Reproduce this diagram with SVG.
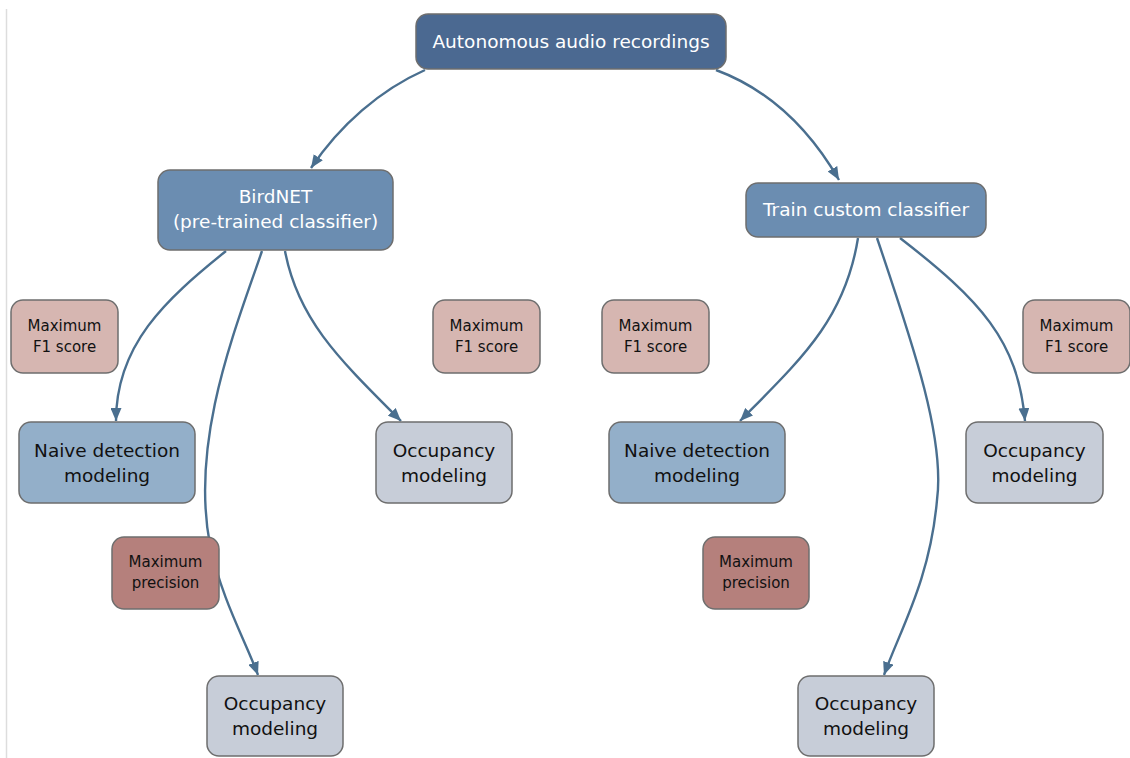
<svg xmlns="http://www.w3.org/2000/svg" width="1130" height="758" viewBox="0 0 1130 758">
<defs>
<marker id="arr" viewBox="0 0 13 11" refX="13" refY="5.5" markerWidth="13" markerHeight="11" markerUnits="userSpaceOnUse" orient="auto">
<path d="M0,0 L13,5.5 L0,11 Z" fill="#4a6f8f"/>
</marker>
<style>
.n rect{stroke:#6e6e6e;stroke-width:1.5}
.t{font-family:"DejaVu Sans",Verdana,sans-serif;text-anchor:middle}
.w{fill:#ffffff}
.k{fill:#111111}
.big{font-size:18.5px}
.sm{font-size:15px}
.e path{fill:none;stroke:#4a6f8f;stroke-width:2.4}
.top{fill:#4b6991}
.mid{fill:#6b8db1}
.f1{fill:#d6b6b1}
.pr{fill:#b5807c}
.nv{fill:#93afc9}
.oc{fill:#c7cdd8}
</style>
</defs>
<rect width="1130" height="758" fill="#ffffff"/>
<line x1="6.5" y1="9" x2="6.5" y2="758" stroke="#dddddd" stroke-width="1.5"/>
<g id="connectors" class="e">
<path d="M425,70 C380,90 340,125 311,168" marker-end="url(#arr)"/>
<path d="M716,70 C770,90 810,130 839,180" marker-end="url(#arr)"/>
<path d="M226,251 C165,300 116,345 116,421" marker-end="url(#arr)"/>
<path d="M262,251 C235,330 190,440 210,545 C222,600 245,640 258,675" marker-end="url(#arr)"/>
<path d="M285,251 C298,320 340,360 401,421" marker-end="url(#arr)"/>
<path d="M858,238 C845,320 800,360 740,421" marker-end="url(#arr)"/>
<path d="M877,238 C915,350 945,440 937,500 C930,580 900,630 884,675" marker-end="url(#arr)"/>
<path d="M900,238 C980,300 1018,340 1025,421" marker-end="url(#arr)"/>
</g>
<g id="n_top" class="n"><rect class="top" x="416" y="14" width="310" height="55" rx="12"/><text class="t w big" x="571" y="48">Autonomous audio recordings</text></g>
<g id="n_birdnet" class="n"><rect class="mid" x="158" y="170" width="235" height="80" rx="12"/><text class="t w big" x="275.5" y="203">BirdNET</text><text class="t w big" x="275.5" y="228">(pre-trained classifier)</text></g>
<g id="n_train" class="n"><rect class="mid" x="746" y="183" width="240" height="54" rx="12"/><text class="t w big" x="866" y="216">Train custom classifier</text></g>
<g id="n_f1a" class="n"><rect class="f1" x="11" y="300" width="107" height="73" rx="12"/><text class="t k sm" x="64.5" y="331">Maximum</text><text class="t k sm" x="64.5" y="352">F1 score</text></g>
<g id="n_f1b" class="n"><rect class="f1" x="433" y="300" width="107" height="73" rx="12"/><text class="t k sm" x="486.5" y="331">Maximum</text><text class="t k sm" x="486.5" y="352">F1 score</text></g>
<g id="n_f1c" class="n"><rect class="f1" x="602" y="300" width="107" height="73" rx="12"/><text class="t k sm" x="655.5" y="331">Maximum</text><text class="t k sm" x="655.5" y="352">F1 score</text></g>
<g id="n_f1d" class="n"><rect class="f1" x="1023" y="300" width="107" height="73" rx="12"/><text class="t k sm" x="1076.5" y="331">Maximum</text><text class="t k sm" x="1076.5" y="352">F1 score</text></g>
<g id="n_naive1" class="n"><rect class="nv" x="19" y="422" width="176" height="81" rx="12"/><text class="t k big" x="107" y="457">Naive detection</text><text class="t k big" x="107" y="482">modeling</text></g>
<g id="n_occ1" class="n"><rect class="oc" x="376" y="422" width="136" height="81" rx="12"/><text class="t k big" x="444" y="457">Occupancy</text><text class="t k big" x="444" y="482">modeling</text></g>
<g id="n_naive2" class="n"><rect class="nv" x="609" y="422" width="176" height="81" rx="12"/><text class="t k big" x="697" y="457">Naive detection</text><text class="t k big" x="697" y="482">modeling</text></g>
<g id="n_occ2" class="n"><rect class="oc" x="966" y="422" width="137" height="81" rx="12"/><text class="t k big" x="1034.5" y="457">Occupancy</text><text class="t k big" x="1034.5" y="482">modeling</text></g>
<g id="n_pr1" class="n"><rect class="pr" x="112" y="537" width="107" height="72" rx="12"/><text class="t k sm" x="165.5" y="567">Maximum</text><text class="t k sm" x="165.5" y="588">precision</text></g>
<g id="n_pr2" class="n"><rect class="pr" x="703" y="537" width="106" height="72" rx="12"/><text class="t k sm" x="756" y="567">Maximum</text><text class="t k sm" x="756" y="588">precision</text></g>
<g id="n_occ3" class="n"><rect class="oc" x="207" y="676" width="136" height="80" rx="12"/><text class="t k big" x="275" y="710">Occupancy</text><text class="t k big" x="275" y="735">modeling</text></g>
<g id="n_occ4" class="n"><rect class="oc" x="798" y="676" width="136" height="80" rx="12"/><text class="t k big" x="866" y="710">Occupancy</text><text class="t k big" x="866" y="735">modeling</text></g>
</svg>
